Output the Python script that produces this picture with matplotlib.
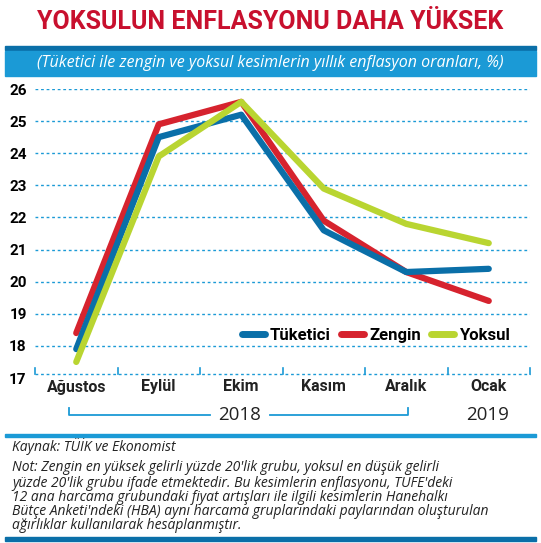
import matplotlib
matplotlib.use("Agg")
import matplotlib.pyplot as plt
from matplotlib.patches import Rectangle
from matplotlib.lines import Line2D

months = ["Ağustos", "Eylül", "Ekim", "Kasım", "Aralık", "Ocak"]
tuketici = [17.9, 24.5, 25.2, 21.6, 20.3, 20.4]
zengin = [18.4, 24.9, 25.6, 21.9, 20.3, 19.4]
yoksul = [17.5, 23.9, 25.6, 22.9, 21.8, 21.2]
yticks = [17, 18, 19, 20, 21, 22, 23, 24, 25, 26]

NARROW = ["Roboto", "DejaVu Sans"]
W, H = 541, 543
fig = plt.figure(figsize=(W/100, H/100), dpi=100)
fig.patch.set_facecolor("white")

def fy(p): return 1 - p/H
def fx(p): return p/W

fig.text(0.5, fy(22), "YOKSULUN ENFLASYONU DAHA YÜKSEK", ha="center", va="center",
         color="#c8102e", fontsize=18, family=NARROW, fontweight="bold")
fig.add_artist(Rectangle((fx(5), fy(50)), fx(531), 4/H, color="#0a6fa8", transform=fig.transFigure))
fig.add_artist(Rectangle((fx(5), fy(76)), fx(531), 25/H, color="#1b9ad6", transform=fig.transFigure))
fig.text(0.5, fy(63), "(Tüketici ile zengin ve yoksul kesimlerin yıllık enflasyon oranları, %)",
         ha="center", va="center", color="white", fontsize=11.5, style="italic", family="Open Sans")

ax = fig.add_axes([fx(35), fy(378), fx(495), (378-89)/H])
ax.set_xlim(-0.5, 5.5)
ax.set_ylim(17, 26)
for s in ax.spines.values():
    s.set_visible(False)
for y in yticks[1:]:
    ax.axhline(y, color="#1b9ad6", lw=1, ls=(0, (2, 2)), zorder=0)
x = list(range(len(months)))
ax.plot(x, tuketici, color="#0a6fa8", lw=4.5, solid_capstyle="round", zorder=3)
ax.plot(x, zengin, color="#d6232e", lw=4.5, solid_capstyle="round", zorder=2)
ax.plot(x, yoksul, color="#b9d531", lw=4.5, solid_capstyle="round", zorder=4)
ax.set_yticks(yticks)
ax.set_yticklabels([str(v) for v in yticks], family=NARROW, fontsize=11, fontweight="bold")
ax.set_xticks([])
ax.tick_params(axis="y", length=0, pad=6)
ax.plot([-0.5, 5.5], [17.13, 17.13], color="#1b9ad6", lw=1, ls=(0, (2, 2)), clip_on=False)
for b in [-0.5 + i for i in range(7)]:
    ax.plot([b, b], [17.13, 17.3], color="#1b9ad6", lw=1.2, clip_on=False)
for i, m in enumerate(months):
    ax.text(i, 16.72, m, ha="center", va="center", family=NARROW, fontsize=11.5,
            fontweight="bold", color="#222")

leg = [Line2D([], [], color=c, lw=5, solid_capstyle="round") for c in ["#0a6fa8", "#d6232e", "#b9d531"]]
ax.legend(leg, ["Tüketici", "Zengin", "Yoksul"], loc="lower right", bbox_to_anchor=(0.99, 0.07),
          ncol=3, frameon=False, handlelength=1.4, handletextpad=0.3, columnspacing=0.6,
          prop={"family": NARROW, "size": 12, "weight": "bold"})

c = "#1b9ad6"
yb = fy(415)
fig.add_artist(Line2D([fx(69), fx(69), fx(210)], [fy(408), yb, yb], color=c, lw=1.3))
fig.add_artist(Line2D([fx(270), fx(408), fx(408)], [yb, yb, fy(408)], color=c, lw=1.3))
fig.text(fx(240), yb, "2018", ha="center", va="center", fontsize=13.5, family="Open Sans", color="#222")
fig.text(fx(488), yb, "2019", ha="center", va="center", fontsize=13.5, family="Open Sans", color="#222")

fig.add_artist(Rectangle((fx(5), fy(437)), fx(531), 3/H, color="#1b9ad6", transform=fig.transFigure))
fig.text(fx(12), fy(447), "Kaynak: TÜİK ve Ekonomist", ha="left", va="center", fontsize=10,
         style="italic", family="Open Sans", color="#222")
note = ("Not: Zengin en yüksek gelirli yüzde 20'lik grubu, yoksul en düşük gelirli\n"
        "yüzde 20'lik grubu ifade etmektedir. Bu kesimlerin enflasyonu, TÜFE'deki\n"
        "12 ana harcama grubundaki fiyat artışları ile ilgili kesimlerin Hanehalkı\n"
        "Bütçe Anketi'ndeki (HBA) aynı harcama gruplarındaki paylarından oluşturulan\n"
        "ağırlıklar kullanılarak hesaplanmıştır.")
fig.text(fx(12), fy(460), note, ha="left", va="top", fontsize=10, style="italic",
         family="Open Sans", color="#222", linespacing=0.92)
fig.add_artist(Rectangle((fx(5), fy(541)), fx(531), 4/H, color="#0a6fa8", transform=fig.transFigure))

fig.savefig("out.png", dpi=100)
